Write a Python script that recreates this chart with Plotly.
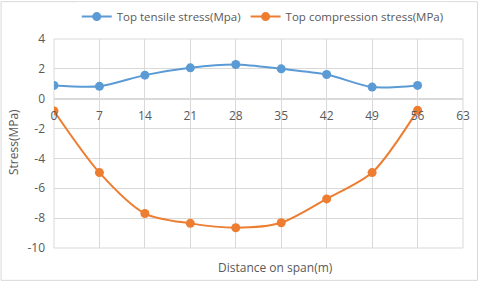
import plotly.graph_objects as go

distance = [0, 7, 14, 21, 28, 35, 42, 49, 56]
tensile = [0.89, 0.83, 1.58, 2.07, 2.29, 2.0, 1.62, 0.78, 0.89]
compression = [-0.82, -4.95, -7.69, -8.35, -8.64, -8.31, -6.71, -4.95, -0.78]
x_ticks = [0, 7, 14, 21, 28, 35, 42, 49, 56, 63]
y_ticks = [4, 2, 0, -2, -4, -6, -8, -10]

W, H = 480, 283
left, right, top, bottom = 54, 463.5, 38.5, 248.5
pw, ph = right - left, bottom - top

fig = go.Figure()
fig.add_trace(go.Scatter(x=distance, y=tensile, mode="lines+markers", name="Top tensile stress(Mpa)",
                         line=dict(color="#5B9BD5", width=2, shape="spline", smoothing=0.8),
                         marker=dict(size=9, color="#5B9BD5")))
fig.add_trace(go.Scatter(x=distance, y=compression, mode="lines+markers", name="Top compression stress(MPa)",
                         line=dict(color="#ED7D31", width=2, shape="spline", smoothing=0.8),
                         marker=dict(size=9, color="#ED7D31")))

ypos = (0 - (-10)) / 14.0
fig.update_layout(
    width=W, height=H,
    margin=dict(l=left, r=W - right, t=top, b=H - bottom, autoexpand=False),
    paper_bgcolor="white", plot_bgcolor="white",
    font=dict(family="Open Sans, Liberation Sans, sans-serif", size=11, color="#595959"),
    showlegend=True,
    legend=dict(orientation="h", x=(263 - left) / pw, xanchor="center",
                y=1 + (top - 16) / ph, yanchor="middle",
                font=dict(size=11.5, color="#595959"), itemwidth=30),
    xaxis=dict(range=[0, 63], tickvals=x_ticks, ticktext=[str(v) for v in x_ticks],
               showgrid=True, gridcolor="#D9D9D9", gridwidth=1, zeroline=False,
               showline=True, linecolor="#D9D9D9", linewidth=1,
               anchor="free", position=ypos, ticks="", ticklen=0,
               ticklabeloverflow="allow", automargin=False, ticklabelstandoff=6,
               tickfont=dict(size=12)),
    yaxis=dict(range=[-10, 4], tickvals=y_ticks, ticktext=[str(v) for v in y_ticks],
               showgrid=True, gridcolor="#D9D9D9",
               zeroline=False, showline=False, ticks="", automargin=False,
               ticklabelstandoff=8, tickfont=dict(size=12)),
)
fig.add_annotation(text="Stress(MPa)", xref="paper", yref="paper", x=(13 - left) / pw,
                   y=1 - (142 - top) / ph, textangle=-90, showarrow=False,
                   font=dict(size=12, color="#595959"), xanchor="center", yanchor="middle")
fig.add_annotation(text="Distance on span(m)", xref="paper", yref="paper", x=(276 - left) / pw,
                   y=1 - (268 - top) / ph, showarrow=False,
                   font=dict(size=12, color="#595959"), xanchor="center", yanchor="middle")
# plot frame
fig.add_shape(type="rect", xref="paper", yref="paper", x0=0, x1=1, y0=0, y1=1,
              line=dict(color="#D9D9D9", width=1), layer="below")
# chart border
fig.add_shape(type="rect", xref="paper", yref="paper",
              x0=-(left - 1) / pw, x1=1 + (W - right - 2) / pw,
              y0=-(H - bottom - 2) / ph, y1=1 + (top - 1) / ph,
              line=dict(color="#D9D9D9", width=1))
fig.write_html("out.html", config={"displayModeBar": False},
               post_script="document.body.style.margin='0';document.body.style.overflow='hidden';")
